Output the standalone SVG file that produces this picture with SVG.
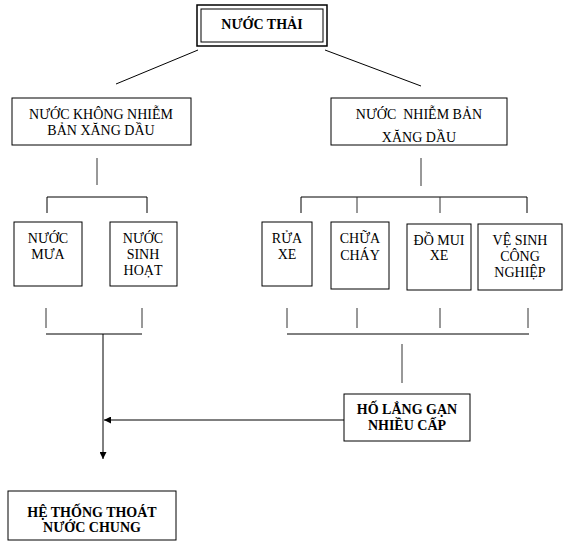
<svg xmlns="http://www.w3.org/2000/svg" width="576" height="551" viewBox="0 0 576 551">
<style>
.box{fill:#fff;stroke:#000;stroke-width:1}
.t{font-family:"Liberation Serif","Times New Roman",serif;font-size:14px;fill:#000;text-anchor:middle}
.b{font-weight:bold}
.ln{stroke:#000;stroke-width:1;fill:none}
.tk{stroke:#333;stroke-width:1;fill:none}
</style>
<defs>
<marker id="ah" viewBox="0 0 10 10" refX="10" refY="5" markerWidth="7" markerHeight="7" markerUnits="userSpaceOnUse" orient="auto">
<path d="M0,0 L10,5 L0,10 z" fill="#000"/>
</marker>
</defs>
<rect width="576" height="551" fill="#fff"/>
<g id="connectors">
<line class="ln" x1="198" y1="50" x2="116" y2="84"/>
<line class="ln" x1="325" y1="50" x2="421" y2="86"/>
<line class="tk" x1="97" y1="158" x2="97" y2="185"/>
<line class="tk" x1="421" y1="158" x2="421" y2="186"/>
<polyline class="ln" points="47,213 47,197 147,197 147,213"/>
<polyline class="ln" points="301,213 301,197 527,197 527,213"/>
<line class="tk" x1="357" y1="197" x2="357" y2="213"/>
<line class="tk" x1="440" y1="197" x2="440" y2="213"/>
<line class="tk" x1="46" y1="308" x2="46" y2="328"/>
<line class="tk" x1="142" y1="308" x2="142" y2="328"/>
<line class="ln" x1="46" y1="334" x2="142" y2="334"/>
<line class="tk" x1="287" y1="308" x2="287" y2="328"/>
<line class="tk" x1="357" y1="308" x2="357" y2="328"/>
<line class="tk" x1="440" y1="308" x2="440" y2="328"/>
<line class="tk" x1="528" y1="308" x2="528" y2="328"/>
<line class="ln" x1="287" y1="334" x2="529" y2="334"/>
<line class="tk" x1="402" y1="344" x2="402" y2="383"/>
<line class="ln" x1="103" y1="334" x2="103" y2="459" marker-end="url(#ah)"/>
<line class="ln" x1="344" y1="420" x2="104" y2="420" marker-end="url(#ah)"/>
</g>
<g id="nuoc-thai">
<rect x="197" y="5" width="130" height="41" fill="#fff" stroke="#000" stroke-width="1.5"/>
<rect x="201" y="9" width="122" height="33" fill="none" stroke="#000" stroke-width="1"/>
<text class="t b" x="262" y="29">NƯỚC THẢI</text>
</g>
<g id="khong-nhiem">
<rect class="box" x="12" y="98" width="179" height="47"/>
<text class="t" x="101" y="119">NƯỚC KHÔNG NHIỄM</text>
<text class="t" x="101" y="135">BẢN XĂNG DẦU</text>
</g>
<g id="nhiem">
<rect class="box" x="331" y="98" width="176" height="47"/>
<text class="t" x="419" y="119" xml:space="preserve">NƯỚC  NHIỄM BẢN</text>
<text class="t" x="419" y="142">XĂNG DẦU</text>
</g>
<g id="nuoc-mua">
<rect class="box" x="14" y="222" width="68" height="64"/>
<text class="t" x="48" y="243">NƯỚC</text>
<text class="t" x="48" y="259">MƯA</text>
</g>
<g id="sinh-hoat">
<rect class="box" x="110" y="222" width="67" height="64"/>
<text class="t" x="143" y="243">NƯỚC</text>
<text class="t" x="143" y="259">SINH</text>
<text class="t" x="143" y="275">HOẠT</text>
</g>
<g id="rua-xe">
<rect class="box" x="262" y="222" width="50" height="64"/>
<text class="t" x="287" y="243">RỬA</text>
<text class="t" x="287" y="259">XE</text>
</g>
<g id="chua-chay">
<rect class="box" x="331" y="222" width="58" height="67"/>
<text class="t" x="360" y="243">CHỮA</text>
<text class="t" x="360" y="260">CHÁY</text>
</g>
<g id="do-mui">
<rect class="box" x="407" y="224" width="64" height="66"/>
<text class="t" x="439" y="245">ĐỒ MUI</text>
<text class="t" x="439" y="260">XE</text>
</g>
<g id="ve-sinh">
<rect class="box" x="478" y="224" width="84" height="66"/>
<text class="t" x="520" y="245">VỆ SINH</text>
<text class="t" x="520" y="261">CÔNG</text>
<text class="t" x="520" y="277">NGHIỆP</text>
</g>
<g id="ho-lang">
<rect class="box" x="344" y="394" width="126" height="47"/>
<text class="t b" x="407" y="414">HỐ LẮNG GẠN</text>
<text class="t b" x="407" y="430">NHIỀU CẤP</text>
</g>
<g id="he-thong">
<rect class="box" x="8" y="491" width="168" height="49"/>
<text class="t b" x="92" y="517">HỆ THỐNG THOÁT</text>
<text class="t b" x="92" y="532">NƯỚC CHUNG</text>
</g>
</svg>
